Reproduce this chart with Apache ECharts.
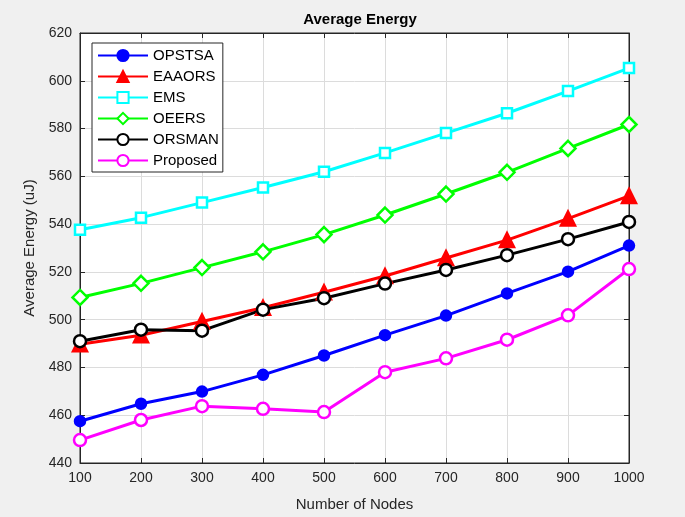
<!DOCTYPE html>
<html><head><meta charset="utf-8">
<script src="https://cdn.jsdelivr.net/npm/echarts@6/dist/echarts.min.js"></script>
<style>html,body{margin:0;padding:0;background:#f0f0f0;}#c{width:685px;height:517px;}</style>
</head><body><div id="c"></div>
<script>
const nodes = [100,200,300,400,500,600,700,800,900,1000];
const OPSTSA = [457.5,464.8,469.9,476.9,485.0,493.5,501.7,511.0,520.1,531.0];
const EAAORS = [489.7,493.5,499.2,505.0,511.5,518.3,525.8,533.3,542.3,551.8];
const EMS = [537.6,542.7,549.0,555.3,561.9,569.8,578.1,586.4,595.7,605.3];
const OEERS = [509.3,515.2,521.8,528.4,535.6,543.8,552.6,561.7,571.7,581.7];
const ORSMAN = [491.0,495.8,495.4,504.2,509.0,515.1,520.8,527.0,533.7,540.9];
const Proposed = [449.6,458.0,463.8,462.7,461.3,478.0,483.8,491.6,501.8,521.2];
const yTicks = [440,460,480,500,520,540,560,580,600,620];

const FONT = 'Liberation Sans';
function mk(name, vals, color, symbol, size, filled){
  return {
    name, type:'line', data: nodes.map((x,i)=>[x, vals[i]]),
    symbol, symbolSize:size, showSymbol:true,
    lineStyle:{color, width:3},
    itemStyle:{color: filled ? color : '#ffffff', borderColor: color, borderWidth: 2.5},
    emphasis:{disabled:true}, animation:false, z: 3
  };
}
const chart = echarts.init(document.getElementById('c'));
const axisLineStyle = {lineStyle:{color:'#262626', width:1}};
chart.setOption({
  backgroundColor:'#f0f0f0',
  animation:false,
  title:{text:'Average Energy', left:355, top:7, textAlign:'center',
    textStyle:{fontFamily:FONT, fontSize:15, fontWeight:'bold', color:'#000'}},
  grid:{left:80, right:56, top:33, bottom:52, show:true, backgroundColor:'#ffffff', borderColor:'#262626', borderWidth:1},
  legend:{orient:'vertical', left:92, top:43, itemWidth:50, itemHeight:14, itemGap:6,
    backgroundColor:'#ffffff', borderColor:'#262626', borderWidth:1, borderRadius:0,
    padding:[5,4,4,5],
    textStyle:{fontFamily:FONT, fontSize:15, lineHeight:14, color:'#000'},
    data:['OPSTSA','EAAORS','EMS','OEERS','ORSMAN','Proposed']},
  xAxis:[{type:'value', min:100, max:1000, interval:100,
    name:'Number of Nodes', nameLocation:'middle', nameGap:34,
    nameTextStyle:{fontFamily:FONT, fontSize:15, color:'#262626'},
    axisLine:axisLineStyle, axisTick:{inside:true, length:5, lineStyle:{color:'#262626'}},
    axisLabel:{fontFamily:FONT, fontSize:14, color:'#262626', margin:8, formatter: v => String(v)},
    splitLine:{show:true, lineStyle:{color:'#dcdcdc', width:1}}},
    {type:'value', position:'top', min:100, max:1000, interval:100,
    axisLine:axisLineStyle, axisTick:{inside:true, length:5, lineStyle:{color:'#262626'}},
    axisLabel:{show:false}, splitLine:{show:false}}],
  yAxis:[{type:'value', min:440, max:620, interval:20,
    name:'Average Energy (uJ)', nameLocation:'middle', nameGap:42,
    nameTextStyle:{fontFamily:FONT, fontSize:15, color:'#262626'},
    axisLine:{show:true, lineStyle:{color:'#262626'}}, axisTick:{show:true, inside:true, length:5, lineStyle:{color:'#262626'}},
    axisLabel:{fontFamily:FONT, fontSize:14, color:'#262626', margin:8,
      formatter: v => yTicks.includes(v) ? String(v) : ''},
    splitLine:{show:true, lineStyle:{color:'#dcdcdc', width:1}}},
    {type:'value', position:'right', min:440, max:620, interval:20,
    axisLine:{show:true, lineStyle:{color:'#262626'}}, axisTick:{show:true, inside:true, length:5, lineStyle:{color:'#262626'}},
    axisLabel:{show:false}, splitLine:{show:false}}],
  series:[
    mk('OPSTSA', OPSTSA, '#0000ff', 'circle', 10, true),
    mk('EAAORS', EAAORS, '#ff0000', 'triangle', 14, true),
    mk('EMS', EMS, '#00ffff', 'rect', 10, false),
    mk('OEERS', OEERS, '#00ff00', 'diamond', 15, false),
    mk('ORSMAN', ORSMAN, '#000000', 'circle', 12, false),
    mk('Proposed', Proposed, '#ff00ff', 'circle', 12, false)
  ]
});
</script></body></html>
